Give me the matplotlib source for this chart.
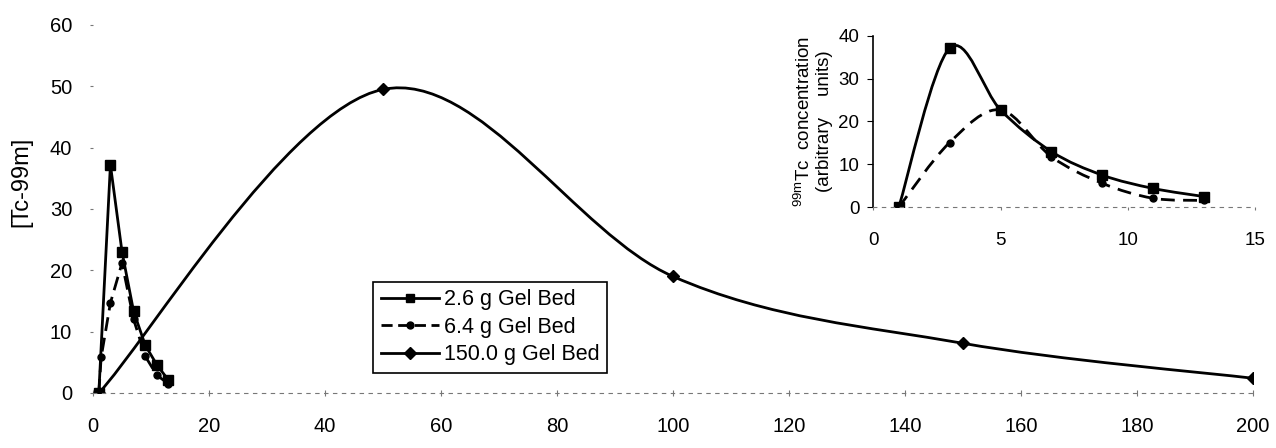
import matplotlib
matplotlib.use("Agg")
import matplotlib.pyplot as plt
import numpy as np
from matplotlib.path import Path
from matplotlib.patches import PathPatch
from matplotlib.lines import Line2D

plt.rcParams['font.family'] = ['Liberation Sans', 'DejaVu Sans']
plt.rcParams['mathtext.fontset'] = 'custom'
plt.rcParams['mathtext.rm'] = 'Liberation Sans'

# main chart data (time vs [Tc-99m])
x_26 = [1, 3, 5, 7, 9, 11, 13]
y_26 = [0, 37.2, 23, 13.3, 7.8, 4.6, 2.1]
x_64 = [1, 1.4, 3, 5, 7, 9, 11, 13]
y_64 = [0, 5.8, 14.7, 21.2, 12, 6, 2.9, 1.5]
x_150 = [1, 50, 100, 150, 200]
y_150 = [0, 49.5, 19, 8.1, 2.4]

# inset data
xi_26 = [1, 3, 5, 7, 9, 11, 13]
yi_26 = [0, 37.1, 22.7, 13, 7.5, 4.4, 2.5]
xi_64 = [1, 3, 5, 7, 9, 11, 13]
yi_64 = [0, 15.1, 22.7, 11.8, 5.6, 2.1, 1.6]

labels = ["2.6 g Gel Bed", "6.4 g Gel Bed", "150.0 g Gel Bed"]
main_xticks = np.arange(0, 201, 20)
main_yticks = np.arange(0, 61, 10)


def smooth_path(x, y):
    # smoothed line like the spreadsheet's "smoothed line" option (Catmull-Rom as Bezier)
    pts = np.column_stack([x, y]).astype(float)
    n = len(pts)
    verts = [pts[0]]
    codes = [Path.MOVETO]
    for i in range(n - 1):
        p0 = pts[max(i - 1, 0)]
        p1 = pts[i]
        p2 = pts[i + 1]
        p3 = pts[min(i + 2, n - 1)]
        verts += [p1 + (p2 - p0) / 6, p2 - (p3 - p1) / 6, p2]
        codes += [Path.CURVE4] * 3
    return Path(verts, codes)


fig = plt.figure(figsize=(12.76, 4.48), dpi=100)
ax = fig.add_axes([0.0729, 0.1228, 0.9091, 0.8214])

ax.plot(x_26, y_26, color='black', lw=2, marker='s', ms=7)
ax.plot(x_64, y_64, color='black', lw=2, dashes=(5, 2.5), marker='o', ms=5)
ax.add_patch(PathPatch(smooth_path(x_150, y_150), fill=False, lw=2, ec='black'))
ax.plot(x_150, y_150, ls='none', color='black', marker='D', ms=6.5)

ax.set_xlim(0, 200)
ax.set_ylim(0, 60)
ax.set_xticks(main_xticks)
ax.set_yticks(main_yticks)
ax.tick_params(axis='y', length=2, pad=13, labelsize=14.5, color='#777777')
ax.tick_params(axis='x', length=5, direction='inout', pad=15, labelsize=14.5, color='#777777')
for s in ['top', 'right', 'left']:
    ax.spines[s].set_visible(False)
ax.spines['bottom'].set_linestyle((0, (3, 5)))
ax.spines['bottom'].set_color('#777777')
ax.spines['bottom'].set_linewidth(0.8)
ax.set_facecolor('none')
ax.set_ylabel("[Tc-99m]", fontsize=17)
ax.yaxis.set_label_coords(-0.052, 0.573)

handles = [
    Line2D([], [], color='black', lw=2, marker='s', ms=6),
    Line2D([], [], color='black', lw=2, dashes=(4, 2), marker='o', ms=5),
    Line2D([], [], color='black', lw=2, marker='D', ms=6),
]
leg = ax.legend(handles, labels, loc='upper left', bbox_to_anchor=(0.2416, 0.3024),
                borderaxespad=0, fontsize=15.5, handlelength=2.7, handletextpad=0.25,
                labelspacing=0.3, borderpad=0.35, fancybox=False, framealpha=1)
leg.get_frame().set_edgecolor('black')
leg.get_frame().set_linewidth(1.2)

# inset
axi = fig.add_axes([0.6844, 0.5373, 0.2991, 0.383])
axi.set_facecolor('none')
axi.add_patch(PathPatch(smooth_path(xi_26, yi_26), fill=False, lw=2, ec='black'))
axi.plot(xi_26, yi_26, ls='none', color='black', marker='s', ms=7)
axi.add_patch(PathPatch(smooth_path(xi_64, yi_64), fill=False, lw=2, ec='black',
                        ls=(0, (5, 3))))
axi.plot(xi_64, yi_64, ls='none', color='black', marker='o', ms=5)
axi.set_xlim(0, 15)
axi.set_ylim(0, 40)
axi.set_xticks([0, 5, 10, 15])
axi.set_yticks([0, 10, 20, 30, 40])
axi.tick_params(axis='y', length=4, pad=6, labelsize=13.5)
axi.tick_params(axis='x', length=2, pad=16, labelsize=13.5, color='#777777')
for s in ['top', 'right']:
    axi.spines[s].set_visible(False)
axi.spines['left'].set_linewidth(1.2)
axi.spines['bottom'].set_linestyle((0, (3, 5)))
axi.spines['bottom'].set_color('#777777')
axi.spines['bottom'].set_linewidth(0.8)
axi.set_ylabel("$^{\\mathrm{99m}}$Tc  concentration\n(arbitrary    units)",
               fontsize=13.5, linespacing=1.15, labelpad=4)

fig.savefig("out.png", dpi=100)
